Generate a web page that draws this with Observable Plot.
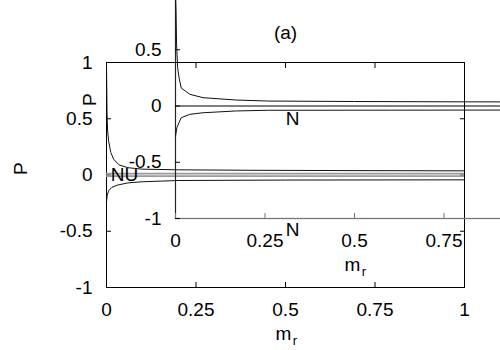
<!DOCTYPE html>
<html><head><meta charset="utf-8">
<script src="https://cdn.jsdelivr.net/npm/d3@7"></script>
<script src="https://cdn.jsdelivr.net/npm/@observablehq/plot@0.6"></script>
<style>
body{margin:0;background:#fff;}
#wrap{position:relative;width:500px;height:350px;overflow:hidden;background:#fff;}
#wrap svg{position:absolute;}
</style></head><body><div id="wrap"></div>
<script>
// ---- ticks ----
const xTicks = [0, 0.25, 0.5, 0.75, 1];
const xTickLabels = ["0", "0.25", "0.5", "0.75", "1"];
const yTicks = [-1, -0.5, 0, 0.5, 1];
const yTickLabels = ["-1", "-0.5", "0", "0.5", "1"];

// ---- main panel ----
const mainUpperX = [0, 0.0008, 0.0015, 0.003, 0.006, 0.012, 0.02, 0.035, 0.06, 0.1, 0.2, 0.4, 0.7, 1.0];
const mainUpperP = [1.0, 0.75, 0.55, 0.4, 0.3, 0.2, 0.14, 0.09, 0.065, 0.052, 0.046, 0.042, 0.039, 0.037];
const mainLowerX = [0, 0.002, 0.006, 0.015, 0.03, 0.06, 0.1, 0.2, 0.5, 1.0];
const mainLowerP = [-0.24, -0.18, -0.14, -0.11, -0.09, -0.07, -0.06, -0.049, -0.045, -0.043];
const mainGrayLevels = [0.012, -0.01];
const mainLabels = ["NU", "N", "N", "(a)"];
const mainLabelX = [0.05, 0.52, 0.52, 0.5];
const mainLabelP = [0, 0.5, -0.49, 1.26];

// ---- inset panel ----
const insetUpperX = [0, 0.0015, 0.003, 0.006, 0.01, 0.016, 0.04, 0.077, 0.17, 0.26, 0.5, 0.8, 1.0];
const insetUpperP = [1.0, 0.85, 0.55, 0.34, 0.25, 0.16, 0.104, 0.074, 0.053, 0.044, 0.04, 0.037, 0.036];
const insetLowerX = [0, 0.004, 0.016, 0.04, 0.077, 0.17, 0.26, 0.6, 1.0];
const insetLowerP = [-0.27, -0.19, -0.104, -0.074, -0.06, -0.044, -0.038, -0.037, -0.036];
const insetZeroLevel = [0];

const FONT = "'Liberation Sans', Arial, Helvetica, sans-serif";
const FS = 19;

function pts(xs, ps) { return xs.map((x, i) => ({x, p: ps[i]})); }

function axes(frameStroke) {
  return [
    Plot.axisX(xTicks, {anchor: "bottom", tickSize: 0, tickPadding: 15, tickFormat: (d, i) => xTickLabels[i], label: null, fontSize: FS}),
    Plot.axisX(xTicks, {anchor: "bottom", tickSize: -5, tickFormat: () => "", label: null, stroke: frameStroke}),
    Plot.axisX(xTicks, {anchor: "top", tickSize: -5, tickFormat: () => "", label: null}),
    Plot.axisY(yTicks, {anchor: "left", tickSize: 0, tickPadding: 14, tickFormat: (d, i) => yTickLabels[i], label: null, fontSize: FS}),
    Plot.axisY(yTicks, {anchor: "left", tickSize: -5, tickFormat: () => "", label: null}),
    Plot.axisY(yTicks, {anchor: "right", tickSize: -5, tickFormat: () => "", label: null}),
    Plot.text(["P"], {text: d => d, frameAnchor: "left", dx: -86, rotate: -90, fontSize: FS}),
    Plot.text(["m"], {text: d => d, frameAnchor: "bottom", dx: -2, dy: 52, fontSize: FS}),
    Plot.text(["r"], {text: d => d, frameAnchor: "bottom", dx: 9.5, dy: 57, fontSize: 13})
  ];
}

function chart(marks, transparent) {
  return Plot.plot({
    width: 500, height: 350,
    marginLeft: 106, marginRight: 36, marginTop: 62, marginBottom: 63,
    style: {fontFamily: FONT, fontSize: FS + "px", background: transparent ? "transparent" : "white", color: "#000"},
    x: {domain: [0, 1]},
    y: {domain: [-1, 1]},
    marks
  });
}

const main = chart([
  Plot.frame({stroke: "#000"}),
  ...axes("#000"),
  Plot.ruleY(mainGrayLevels, {stroke: "#9a9a9a", strokeWidth: 1.6}),
  Plot.line(pts(mainUpperX, mainUpperP), {x: "x", y: "p", stroke: "#111", strokeWidth: 1}),
  Plot.line(pts(mainLowerX, mainLowerP), {x: "x", y: "p", stroke: "#111", strokeWidth: 1}),
  Plot.text(mainLabels.map((t, i) => ({t, x: mainLabelX[i], p: mainLabelP[i]})), {x: "x", y: "p", text: "t", fontSize: FS, fill: "#000"})
], false);

const inset = chart([
  Plot.frame({stroke: "#777", strokeWidth: 1.3}),
  Plot.ruleX([0], {stroke: "#222"}),
  ...axes("#777"),
  Plot.ruleY(insetZeroLevel, {stroke: "#000"}),
  Plot.line(pts(insetUpperX, insetUpperP), {x: "x", y: "p", stroke: "#111", strokeWidth: 1}),
  Plot.line(pts(insetLowerX, insetLowerP), {x: "x", y: "p", stroke: "#111", strokeWidth: 1})
], true);

main.style.left = "0px"; main.style.top = "0px";
inset.style.left = "69px"; inset.style.top = "-69px";
const wrap = document.getElementById("wrap");
wrap.appendChild(main);
wrap.appendChild(inset);
</script></body></html>
